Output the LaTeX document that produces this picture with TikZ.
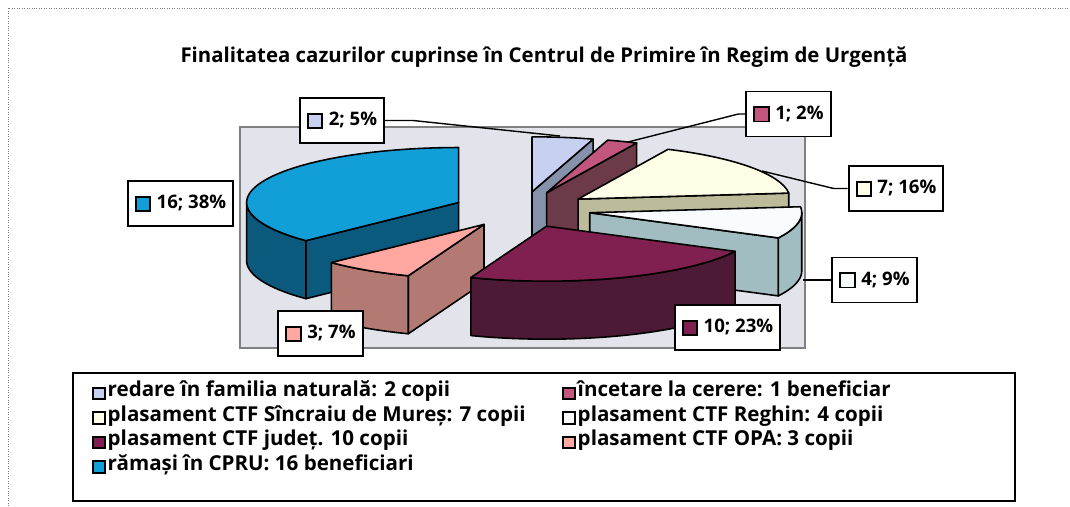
\documentclass[tikz,border=0pt]{standalone}
\usepackage{fontspec}
\setmainfont{Open Sans}
\usetikzlibrary{positioning}

\definecolor{redaretop}{HTML}{C8D0F2}
\definecolor{redareside}{HTML}{8692AC}
\definecolor{incetaretop}{HTML}{C2567E}
\definecolor{incetareside}{HTML}{6C3A48}
\definecolor{sincraiutop}{HTML}{FFFFE8}
\definecolor{sincraiuside}{HTML}{BDBC9A}
\definecolor{reghintop}{HTML}{F8FCFF}
\definecolor{reghinside}{HTML}{A2BDC2}
\definecolor{judettop}{HTML}{7F2050}
\definecolor{judetside}{HTML}{4C1A34}
\definecolor{opatop}{HTML}{FFA8A2}
\definecolor{opaside}{HTML}{B27A72}
\definecolor{cprutop}{HTML}{129FD8}
\definecolor{cpruside}{HTML}{0B5A7E}
\definecolor{plotbg}{HTML}{E3E3EB}

% little coloured square for labels and legend
\newcommand{\swatch}[2]{{\setlength{\fboxsep}{0pt}\setlength{\fboxrule}{1.1pt}\raisebox{-0.3mm}{\fcolorbox{black}{#1}{\rule{0pt}{#2}\hspace{#2}}}}}

% exploded 3d slice: #1 from angle, #2 to angle, #3 top colour, #4 side colour
\newcommand{\pieslice}[4]{%
  \pgfmathsetmacro{\midang}{(#1+#2)/2}%
  \pgfmathsetmacro{\pcx}{522+0.325*212*cos(\midang)}%
  \pgfmathsetmacro{\pcy}{209.5-0.325*55*sin(\midang)}%
  \pgfmathsetmacro{\rimlo}{max(#1,-180)}%
  \pgfmathsetmacro{\rimhi}{min(#2,0)}%
  \pgfmathsetmacro{\cosa}{cos(#1)}%
  \pgfmathsetmacro{\cosb}{cos(#2)}%
  \ifdim\cosa pt>0pt
    \filldraw[slice, fill=#4] (\pcx,\pcy) -- ({\pcx+212*cos(#1)},{\pcy-55*sin(#1)}) -- ++(0,58) -- (\pcx,\pcy+58) -- cycle;
  \fi
  \ifdim\cosb pt<0pt
    \filldraw[slice, fill=#4] (\pcx,\pcy) -- ({\pcx+212*cos(#2)},{\pcy-55*sin(#2)}) -- ++(0,58) -- (\pcx,\pcy+58) -- cycle;
  \fi
  \ifdim\rimlo pt<\rimhi pt
    \filldraw[slice, fill=#4] plot[domain=\rimlo:\rimhi, samples=30] ({\pcx+212*cos(\x)},{\pcy-55*sin(\x)})
      -- plot[domain=\rimhi:\rimlo, samples=30] ({\pcx+212*cos(\x)},{\pcy+58-55*sin(\x)}) -- cycle;
  \fi
  \filldraw[slice, fill=#3] (\pcx,\pcy) -- plot[domain=#1:#2, samples=40] ({\pcx+212*cos(\x)},{\pcy-55*sin(\x)}) -- cycle;
}

\begin{document}
\begin{tikzpicture}[x=0.2mm, y=-0.2mm,
  slice/.style={draw=black, line width=0.9pt, line join=round},
  lbl/.style={draw, fill=white, line width=1.1pt, minimum height=9mm, inner xsep=1.4mm, font=\bfseries\fontsize{10.6}{12}\selectfont},
  leg/.style={inner sep=0pt, text height=2.8mm, text depth=0.9mm, font=\bfseries\fontsize{11.7}{13}\selectfont},
  leader/.style={draw, line width=0.8pt}]

\fill[white] (0,0) rectangle (1070,506);
\useasboundingbox (0,0) rectangle (1070,506);
\draw[densely dotted, gray] (8,506) -- (8,8) -- (1070,8);

\node[font=\bfseries\fontsize{11.6}{13}\selectfont] (title) at (544,57) {Finalitatea cazurilor cuprinse în Centrul de Primire în Regim de Urgență};

% plot area
\filldraw[fill=plotbg, draw=gray, line width=0.6pt] (240,127) rectangle (805,348);

% slices, back to front
\pieslice{73.26}{90}{redaretop}{redareside}
\pieslice{64.88}{73.26}{incetaretop}{incetareside}
\pieslice{6.28}{64.88}{sincraiutop}{sincraiuside}
\pieslice{-270}{-136.05}{cprutop}{cpruside}
\pieslice{-27.21}{6.28}{reghintop}{reghinside}
\pieslice{-136.05}{-110.93}{opatop}{opaside}
\pieslice{-110.93}{-27.21}{judettop}{judetside}

% data labels
\coordinate (p2) at (560,136);
\coordinate (p1) at (628,142);
\coordinate (p7) at (762,171);
\coordinate (p4) at (803,280);

\node[lbl] (l2) at (342,120.5) {\swatch{redaretop}{2.5mm}\hspace{1.1mm}2; 5\%};
\node[lbl] (l1) at (788.5,114) {\swatch{incetaretop}{2.5mm}\hspace{1.1mm}1; 2\%};
\node[lbl] (l7) at (896,188.5) {\swatch{sincraiutop}{2.5mm}\hspace{1.1mm}7; 16\%};
\node[lbl] (l4) at (874.5,280) {\swatch{reghintop}{2.5mm}\hspace{1.1mm}4; 9\%};
\node[lbl] (l10) at (727.5,327.5) {\swatch{judettop}{2.5mm}\hspace{1.1mm}10; 23\%};
\node[lbl] (l3) at (320.5,333.5) {\swatch{opatop}{2.5mm}\hspace{1.1mm}3; 7\%};
\node[lbl] (l16) at (180.5,203.5) {\swatch{cprutop}{2.5mm}\hspace{1.1mm}16; 38\%};

\draw[leader] (l2.east) -- ++(28,0) -- (p2);
\draw[leader] (l1.west) -- ++(-7,0) -- (p1);
\draw[leader] (l7.west) -- ++(-14,0) -- (p7);
\draw[leader] (l4.west) -- (p4);

% legend
\draw[line width=1.1pt] (73,373) rectangle (1015,501);
\node[leg, anchor=west] (lg1) at (92,392) {\swatch{redaretop}{1.9mm}\hspace{0.4mm}redare în familia naturală: 2 copii};
\node[leg, right=94mm of lg1.west, anchor=west] (lg2) {\swatch{incetaretop}{1.9mm}\hspace{0.4mm}încetare la cerere: 1 beneficiar};
\node[leg, below=4.9mm of lg1.west, anchor=west] (lg3) {\swatch{sincraiutop}{1.9mm}\hspace{0.4mm}plasament CTF Sîncraiu de Mureș: 7 copii};
\node[leg, below=4.9mm of lg2.west, anchor=west] (lg4) {\swatch{reghintop}{1.9mm}\hspace{0.4mm}plasament CTF Reghin: 4 copii};
\node[leg, below=4.9mm of lg3.west, anchor=west] (lg5) {\swatch{judettop}{1.9mm}\hspace{0.4mm}plasament CTF județ. 10 copii};
\node[leg, below=4.9mm of lg4.west, anchor=west] (lg6) {\swatch{opatop}{1.9mm}\hspace{0.4mm}plasament CTF OPA: 3 copii};
\node[leg, below=4.9mm of lg5.west, anchor=west] (lg7) {\swatch{cprutop}{1.9mm}\hspace{0.4mm}rămași în CPRU: 16 beneficiari};

\end{tikzpicture}
\end{document}
